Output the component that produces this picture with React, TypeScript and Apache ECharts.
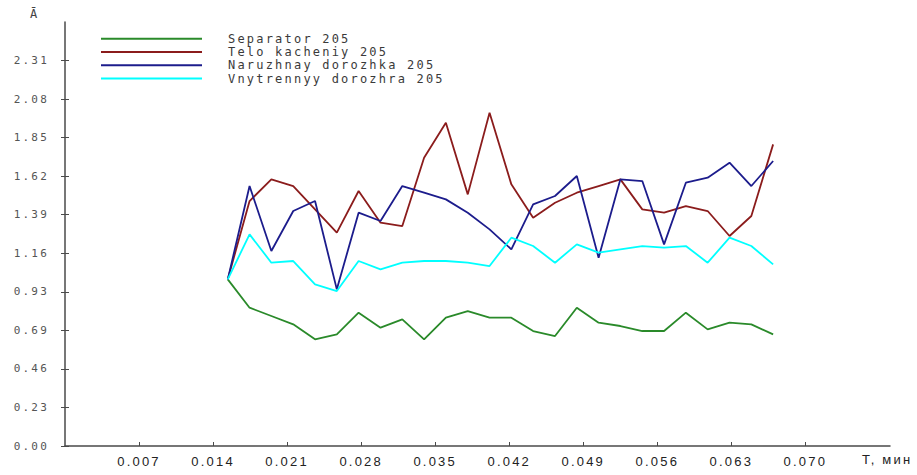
import React, { useEffect, useRef } from "react";
import * as echarts from "echarts";

// Time, min
const timeMin = [
  0.01539, 0.01745, 0.01951, 0.02158, 0.02364, 0.0257, 0.02776, 0.02983, 0.03189,
  0.03395, 0.03601, 0.03808, 0.04014, 0.0422, 0.04426, 0.04633, 0.04839, 0.05045,
  0.05251, 0.05458, 0.05664, 0.0587, 0.06076, 0.06283, 0.06489, 0.06695,
];

const separator = [
  1.0, 0.83, 0.78, 0.73, 0.64, 0.67, 0.8, 0.71, 0.76, 0.64, 0.77, 0.81, 0.77,
  0.77, 0.69, 0.66, 0.83, 0.74, 0.72, 0.69, 0.69, 0.8, 0.7, 0.74, 0.73, 0.67,
];

const teloKacheniy = [
  1.0, 1.47, 1.6, 1.56, 1.42, 1.28, 1.53, 1.34, 1.32, 1.73, 1.94, 1.51, 2.0,
  1.57, 1.37, 1.46, 1.52, 1.56, 1.6, 1.42, 1.4, 1.44, 1.41, 1.26, 1.38, 1.81,
];

const naruzhnay = [
  1.0, 1.56, 1.17, 1.41, 1.47, 0.94, 1.4, 1.35, 1.56, 1.52, 1.48, 1.4, 1.3,
  1.18, 1.45, 1.5, 1.62, 1.13, 1.6, 1.59, 1.21, 1.58, 1.61, 1.7, 1.56, 1.71,
];

const vnutrenniy = [
  1.0, 1.27, 1.1, 1.11, 0.97, 0.93, 1.11, 1.06, 1.1, 1.11, 1.11, 1.1, 1.08,
  1.25, 1.2, 1.1, 1.21, 1.16, 1.18, 1.2, 1.19, 1.2, 1.1, 1.25, 1.2, 1.09,
];

const seriesNames = [
  "Separator 205",
  "Telo kacheniy 205",
  "Naruzhnay dorozhka 205",
  "Vnytrennyy dorozhra 205",
];
const seriesColors = ["#2a8a2a", "#8b1c1c", "#1c1c8c", "#00ffff"];
const seriesValues = [separator, teloKacheniy, naruzhnay, vnutrenniy];

const xTickLabels = [
  "0.007", "0.014", "0.021", "0.028", "0.035",
  "0.042", "0.049", "0.056", "0.063", "0.070",
];
const yTickLabels = [
  "0.00", "0.23", "0.46", "0.69", "0.93", "1.16",
  "1.39", "1.62", "1.85", "2.08", "2.31",
];
const yStep = 0.2313;

export default function App() {
  const ref = useRef<HTMLDivElement>(null);

  useEffect(() => {
    if (!ref.current) return;
    const chart = echarts.init(ref.current, null, { renderer: "svg" });

    const yTickValues = yTickLabels.map((_, i) => i * yStep);
    const xTickValues = xTickLabels.map(Number);
    const axisColor = "#4a4a4a";

    chart.setOption({
      animation: false,
      backgroundColor: "#ffffff",
      grid: { left: 65, right: 27, top: 22, bottom: 29, containLabel: false },
      legend: {
        orient: "vertical",
        left: 96,
        top: 27,
        icon: "rect",
        itemWidth: 101,
        itemHeight: 2,
        itemGap: 0,
        selectedMode: false,
        data: seriesNames,
        textStyle: {
          fontFamily: "DejaVu Sans Mono",
          fontSize: 12,
          color: "#3a3a3a",
          lineHeight: 13.3,
          padding: [0, 0, 0, 21],
        },
      },
      xAxis: [
        {
          type: "value",
          min: 0,
          max: 0.078,
          splitLine: { show: false },
          axisLine: { show: true, lineStyle: { color: axisColor, width: 1.5 } },
          axisTick: {
            show: true,
            length: 4,
            inside: true,
            customValues: xTickValues,
            lineStyle: { color: axisColor },
          },
          axisLabel: {
            customValues: xTickValues,
            margin: 9,
            fontFamily: "Liberation Sans",
            fontSize: 13,
            color: "#222",
            formatter: (v: number) => v.toFixed(3),
          },
        },
      ],
      yAxis: [
        {
          type: "value",
          min: 0,
          max: 11 * yStep,
          splitLine: { show: false },
          axisLine: { show: true, lineStyle: { color: axisColor, width: 1.5 } },
          axisTick: {
            show: true,
            length: 4,
            customValues: yTickValues,
            lineStyle: { color: axisColor },
          },
          axisLabel: {
            customValues: yTickValues,
            margin: 16,
            fontFamily: "DejaVu Sans Mono",
            fontSize: 11,
            color: "#555",
            formatter: (v: number) => yTickLabels[Math.round(v / yStep)] ?? "",
          },
        },
        {
          type: "value",
          min: 0,
          max: 11 * yStep,
          position: "left",
          splitLine: { show: false },
          axisLine: { show: false },
          axisTick: {
            show: true,
            inside: true,
            length: 4,
            customValues: yTickValues,
            lineStyle: { color: axisColor },
          },
          axisLabel: { show: false },
        },
      ],
      graphic: [
        {
          type: "text",
          left: 30,
          top: 8,
          style: {
            text: "Ā",
            fontFamily: "DejaVu Sans Mono",
            fontSize: 12,
            fill: "#444",
          },
        },
        {
          type: "text",
          left: 862,
          top: 453,
          style: {
            text: "T, мин",
            fontFamily: "Liberation Sans",
            fontSize: 13,
            fill: "#222",
          },
        },
      ],
      series: seriesNames.map((name, k) => ({
        name,
        type: "line",
        symbol: "none",
        color: seriesColors[k],
        lineStyle: { color: seriesColors[k], width: 1.8 },
        data: timeMin.map((t, i) => [t, seriesValues[k][i]]),
      })),
    });

    return () => chart.dispose();
  }, []);

  return (
    <div
      ref={ref}
      style={{
        position: "fixed",
        left: 0,
        top: 0,
        width: 917,
        height: 475,
        background: "#fff",
        letterSpacing: "2.2px",
      }}
    />
  );
}
